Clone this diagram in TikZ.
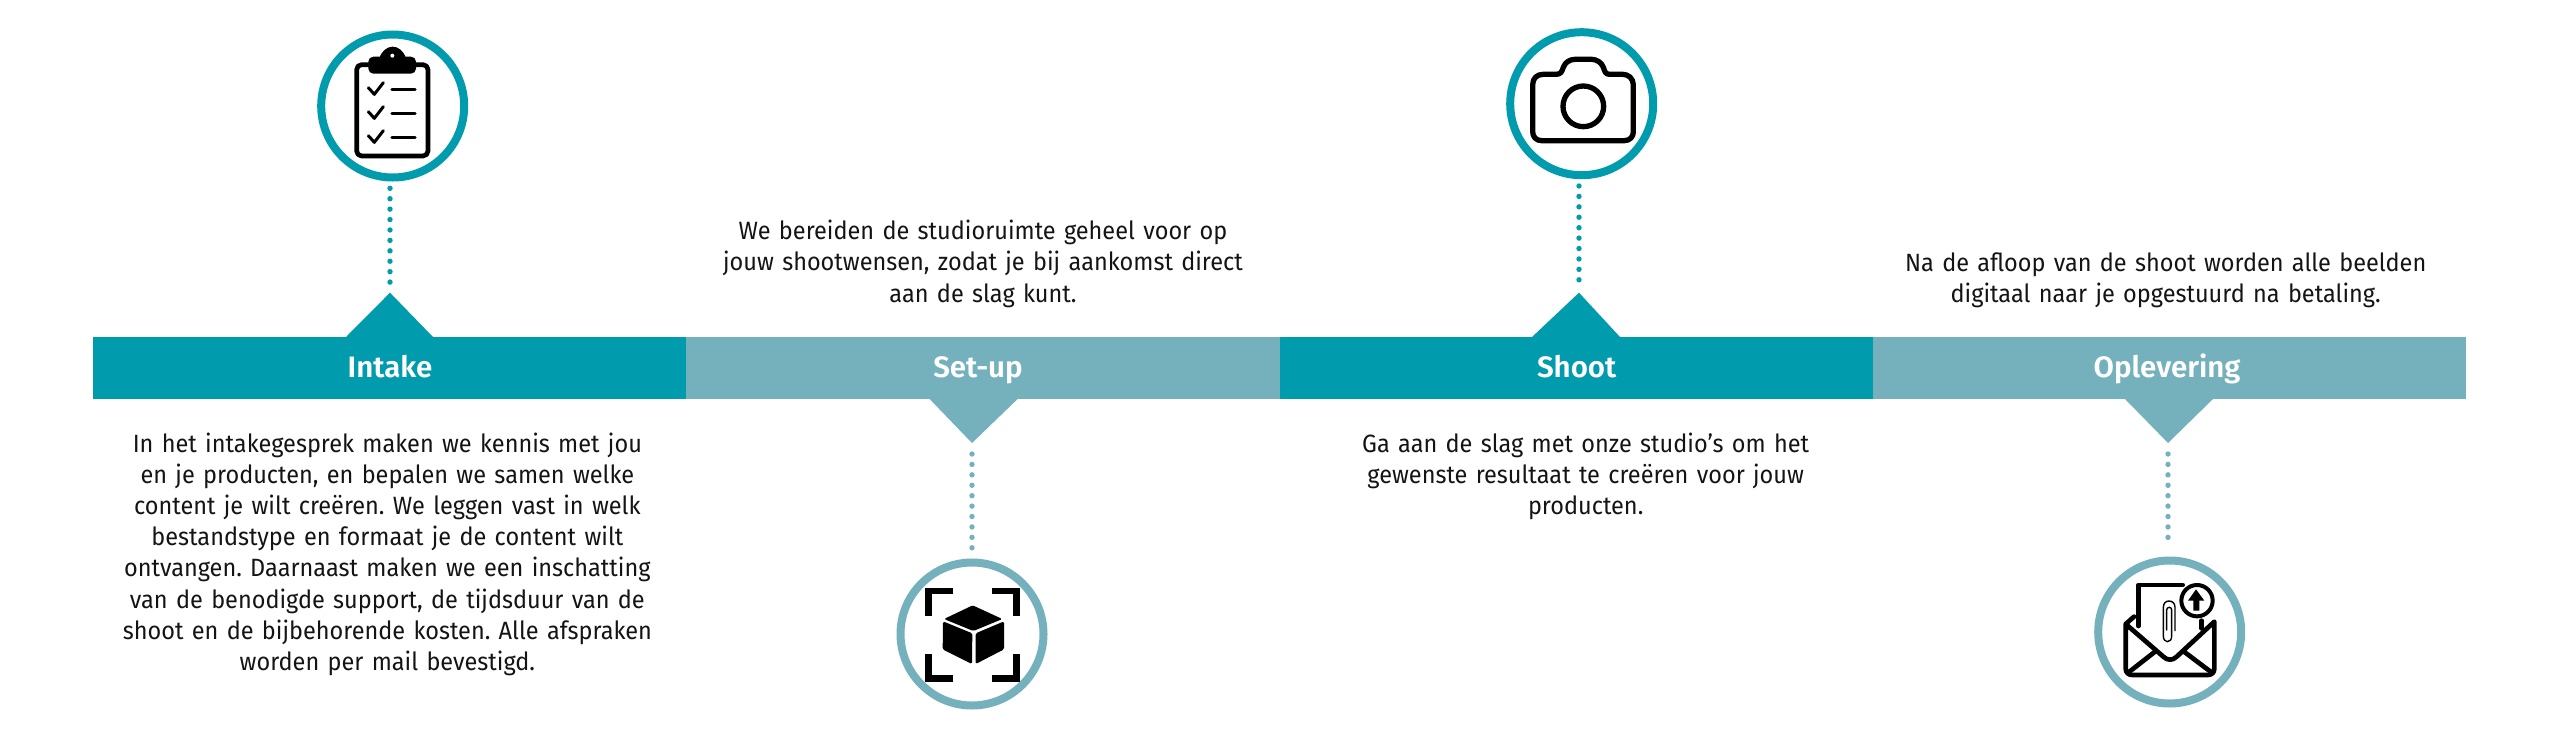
\documentclass[tikz,border=0pt]{standalone}
\usepackage{fontspec}
\setmainfont{Fira Sans}[FakeStretch=0.94]
\newfontfamily\headf{Fira Sans SemiBold}[FakeStretch=1.0]
\frenchspacing
\definecolor{tealdark}{HTML}{009BAC}
\definecolor{teallight}{HTML}{75B1BD}
\tikzset{
  seg/.style={fill=#1,draw=none,rectangle,inner sep=0pt,minimum height=62.4pt,minimum width=593.4pt},
  ring/.style={circle,draw=#1,fill=white,line width=8pt,inner sep=0pt,minimum size=143pt},
  dotline/.style={draw=#1,line width=5.4pt,line cap=round,dash pattern=on 0pt off 10.42pt},
  headtext/.style={text=white,anchor=base,inner sep=0pt,font=\headf\fontsize{29.5}{32}\selectfont},
  bodytext/.style={text=black!92,anchor=base,inner sep=0pt,align=center,text width=590pt,font=\fontsize{25}{31.2}\selectfont},
  ink/.style={draw=black,line width=#1,line join=round,line cap=round},
  iconzoom/.style={x=0.33333pt,y=-0.33333pt}
}
\begin{document}
\begin{tikzpicture}[x=1pt,y=-1pt]
\useasboundingbox[fill=white] (0,0) rectangle (2560,750);
% bar
\node[seg=tealdark]  (sa) at (390,368) {};
\node[seg=teallight] (sb) at (983,368) {};
\node[seg=tealdark]  (sc) at (1576.5,368) {};
\node[seg=teallight] (sd) at (2169.5,368) {};
% pointers
\coordinate (ta) at (390,292.7);
\coordinate (tb) at (972,443);
\coordinate (tc) at (1579,292.7);
\coordinate (td) at (2168,443);
\fill[tealdark] (346,337) -- (ta) -- (433,337) -- cycle;
\fill[teallight] (929.6,399) -- (tb) -- (1017.6,399) -- cycle;
\fill[tealdark] (1532,337) -- (tc) -- (1620,337) -- cycle;
\fill[teallight] (2125,399) -- (td) -- (2213,399) -- cycle;
% rings
\node[ring=tealdark]  (ia) at (392.7,106) {};
\node[ring=teallight] (ib) at (972,634) {};
\node[ring=tealdark]  (ic) at (1581.7,103.7) {};
\node[ring=teallight] (id) at (2169.7,632) {};
% dotted connectors
\draw[dotline=tealdark,shorten <=6.8pt,shorten >=10pt] (ia.south -| ta) -- (ta);
\draw[dotline=teallight,shorten <=11pt,shorten >=10pt] (tb) -- (tb |- ib.north);
\draw[dotline=tealdark,shorten <=6.8pt,shorten >=10pt] (ic.south -| tc) -- (tc);
\draw[dotline=teallight,shorten <=11pt,shorten >=10pt] (td) -- (td |- id.north);
% headings
\node[headtext] (ha) at (390,377.5) {Intake};
\node[headtext] (hb) at (978,377.5) {Set-up};
\node[headtext] (hc) at (1576.7,377.5) {Shoot};
\node[headtext] (hd) at (2167,377.5) {Oplevering};
% body
\node[bodytext] (ba) at (387.4,452) {In het intakegesprek maken we kennis met jou\\en je producten, en bepalen we samen welke\\content je wilt creëren. We leggen vast in welk\\bestandstype en formaat je de content wilt\\ontvangen. Daarnaast maken we een inschatting\\van de benodigde support, de tijdsduur van de\\shoot en de bijbehorende kosten. Alle afspraken\\worden per mail bevestigd.};
\node[bodytext] (bb) at (983,239.6) {We bereiden de studioruimte geheel voor op\\jouw shootwensen, zodat je bij aankomst direct\\aan de slag kunt.};
\node[bodytext] (bc) at (1585.7,452) {Ga aan de slag met onze studio’s om het\\gewenste resultaat te creëren voor jouw\\producten.};
\node[bodytext] (bd) at (2165.7,271) {Na de afloop van de shoot worden alle beelden\\digitaal naar je opgestuurd na betaling.};
% clipboard
\begin{scope}[shift={(280,10)},iconzoom]
\draw[ink=4.7pt,rounded corners=5pt] (230,164) rectangle (444,438);
\fill[black,rounded corners=5pt] (265,140) rectangle (408,191);
\fill[black] (298,145) .. controls (305,122) and (322,110) .. (338,110) .. controls (354,110) and (371,122) .. (378,145) -- cycle;
\fill[white] (337,137) circle[radius=6];
\foreach \r in {0,72,144}{
  \draw[ink=3pt] (265,233+\r) -- (283,253+\r) -- (310,218+\r);
  \draw[ink=3.2pt] (336,238+\r) -- (405,238+\r);
}
\end{scope}
% camera
\begin{scope}[shift={(1470,10)},iconzoom]
\draw[ink=5.3pt] (215,392) -- (463,392) .. controls (480,392) and (490,380) .. (490,365) -- (490,225) .. controls (490,205) and (475,193) .. (458,193) -- (420,193) .. controls (405,193) and (405,185) .. (400,172) .. controls (395,158) and (380,148) .. (365,148) -- (315,148) .. controls (298,148) and (285,158) .. (280,172) .. controls (276,185) and (272,193) .. (258,193) -- (220,193) .. controls (200,193) and (188,205) .. (188,225) -- (188,365) .. controls (188,380) and (198,392) .. (215,392) -- cycle;
\draw[ink=5.3pt] (340,289) circle[radius=61];
\end{scope}
% cube
\begin{scope}[shift={(870,550)},iconzoom]
\draw[black,line width=6.7pt] (248,123) -- (175,123) -- (175,197);
\draw[black,line width=6.7pt] (365,123) -- (439,123) -- (439,197);
\draw[black,line width=6.7pt] (175,312) -- (175,385) -- (248,385);
\draw[black,line width=6.7pt] (365,385) -- (439,385) -- (439,312);
\fill[black,rounded corners=1.5pt] (222,207) -- (308,166) -- (397,207) -- (310,243) -- cycle;
\fill[black,rounded corners=1.5pt] (219,214) -- (307,250) -- (306,342) -- (218,298) -- cycle;
\fill[black,rounded corners=1.5pt] (317,250) -- (402,214) -- (402,298) -- (317,342) -- cycle;
\end{scope}
% envelope
\begin{scope}[shift={(2060,550)},iconzoom]
\draw[ink=4.7pt] (235,228) -- (235,105) -- (368,105);
\draw[ink=4.7pt] (425,212) -- (425,235);
\draw[ink=4.7pt] (222,200) -- (197,222) -- (197,355) .. controls (197,368) and (205,375) .. (218,375) -- (442,375) .. controls (455,375) and (463,368) .. (463,355) -- (463,215) -- (350,320) .. controls (338,332) and (322,332) .. (310,320) -- (197,222);
\draw[ink=4.7pt] (207,366) -- (285,305);
\draw[ink=4.7pt] (453,366) -- (372,305);
\draw[ink=4pt,fill=white] (411,152) circle[radius=47];
\fill[black] (408,118) -- (433,152) -- (418,152) -- (418,182) -- (400,182) -- (400,152) -- (384,152) -- cycle;
\draw[ink=1.4pt] (345,242) -- (345,172) .. controls (345,160) and (337,153) .. (327,153) .. controls (317,153) and (310,160) .. (310,172) -- (310,258) .. controls (310,268) and (315,275) .. (322,275) .. controls (330,275) and (335,268) .. (335,258) -- (335,180) .. controls (335,175) and (332,172) .. (328,172) .. controls (323,172) and (320,175) .. (320,180) -- (320,240);
\end{scope}
\end{tikzpicture}
\end{document}
